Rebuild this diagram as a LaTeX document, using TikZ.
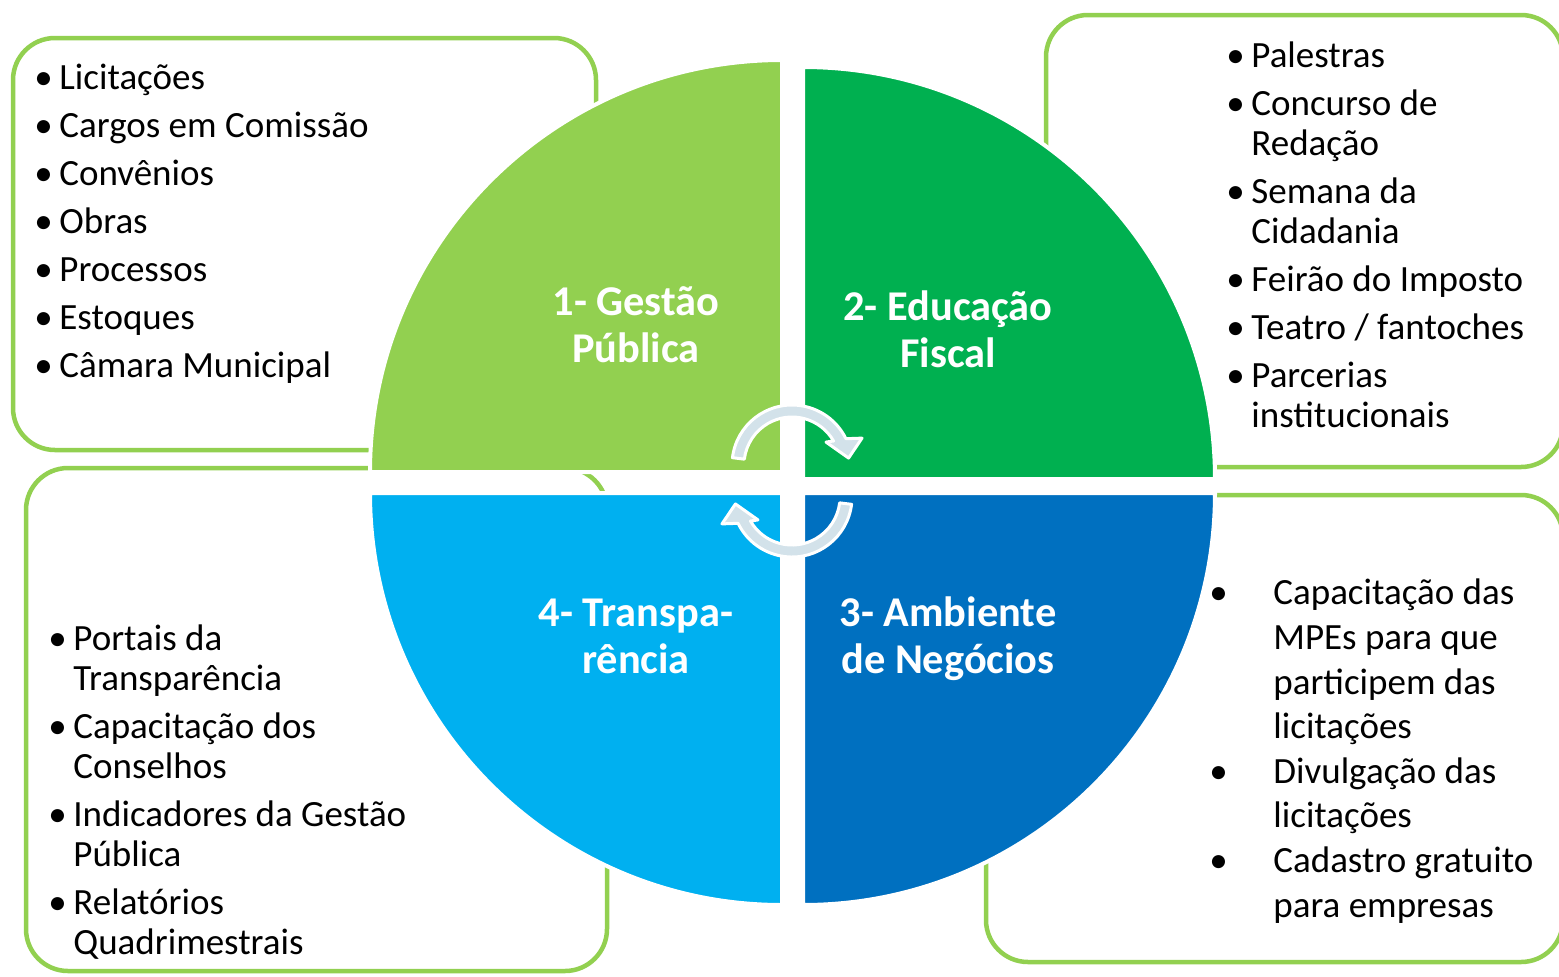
\documentclass[tikz,border=0pt]{standalone}
\usepackage{fontspec}
\setmainfont{Carlito}
\definecolor{gpub}{HTML}{92D050}
\definecolor{efis}{HTML}{00B050}
\definecolor{amb}{HTML}{0070C0}
\definecolor{transp}{HTML}{00B0F0}
\definecolor{ciclo}{HTML}{D3E2EA}
\newcommand{\bul}[1][12.5pt]{\makebox[#1][l]{•}}
\newcommand{\ind}[1][12.5pt]{\hspace*{#1}}
\begin{document}
\begin{tikzpicture}[x=0.5pt,y=0.5pt]
\tikzset{
  caixa/.style={draw=gpub, line width=2.25pt, rounded corners=21pt, fill=white},
  quad/.style={draw=white, line width=2pt},
  titulo/.style={text=white, font=\bfseries\fontsize{21.2}{23.5}\selectfont, align=center, inner sep=0pt, anchor=base},
  lista/.style={font=\fontsize{18.5}{20}\selectfont, align=left, inner sep=0pt, anchor=base west},
  seta/.style={fill=ciclo, draw=white, line width=1.5pt, line join=round}
}
\useasboundingbox (0,0) rectangle (1559,-976);
\fill[white] (0,0) rectangle (1559,-976);
\draw[caixa] (13,-38) rectangle (596,-450);
\draw[caixa] (1046,-15) rectangle (1563,-467);
\draw[caixa] (26,-468) rectangle (607,-971);
\draw[caixa] (986,-495) rectangle (1563,-962);
\filldraw[quad, fill=gpub] (782,-472) -- ++(-412,0) arc[start angle=180, end angle=90, radius=412] -- cycle;
\filldraw[quad, fill=efis] (803,-479) -- ++(0,412) arc[start angle=90, end angle=0, radius=412] -- cycle;
\filldraw[quad, fill=amb] (803,-493) -- ++(412,0) arc[start angle=0, end angle=-90, radius=412] -- cycle;
\filldraw[quad, fill=transp] (782,-493) -- ++(0,-412) arc[start angle=-90, end angle=-180, radius=412] -- cycle;
\begin{scope}[shift={(792,-465)}]
\filldraw[seta] (173:60) arc[start angle=173, end angle=26, radius=60] -- (21:75) -- (7:57) -- (34:41) -- (30:48) arc[start angle=30, end angle=173, radius=48] -- cycle;
\end{scope}
\begin{scope}[shift={(792,-497)}, rotate=180]
\filldraw[seta] (173:60) arc[start angle=173, end angle=26, radius=60] -- (21:75) -- (7:57) -- (34:41) -- (30:48) arc[start angle=30, end angle=173, radius=48] -- cycle;
\end{scope}
\node[titulo] (gestao) at (636,-362) {1- Gestão\\Pública};
\node[titulo] (educacao) at (948,-367) {2- Educação\\Fiscal};
\node[titulo] (ambiente) at (948,-673) {3- Ambiente\\de Negócios};
\node[titulo] (transparencia) at (636,-673) {4- Transpa-\\rência};
\node[lista] (listagestao) at (34,-377) {\bul Licitações\\[4pt]
  \bul Cargos em Comissão\\[4pt]
  \bul Convênios\\[4pt]
  \bul Obras\\[4pt]
  \bul Processos\\[4pt]
  \bul Estoques\\[4pt]
  \bul Câmara Municipal};
\node[lista] (listaeducacao) at (1226,-427) {\bul Palestras\\[4pt]
  \bul Concurso de\\
  \ind Redação\\[4pt]
  \bul Semana da\\
  \ind Cidadania\\[4pt]
  \bul Feirão do Imposto\\[4pt]
  \bul Teatro / fantoches\\[4pt]
  \bul Parcerias\\
  \ind institucionais};
\node[lista, font=\fontsize{18.5}{22.3}\selectfont] (listaambiente) at (1209,-917) {\bul[32pt]Capacitação das\\
  \ind[32pt]MPEs para que\\
  \ind[32pt]participem das\\
  \ind[32pt]licitações\\
  \bul[32pt]Divulgação das\\
  \ind[32pt]licitações\\
  \bul[32pt]Cadastro gratuito\\
  \ind[32pt]para empresas};
\node[lista] (listatransparencia) at (48,-954) {\bul Portais da\\
  \ind Transparência\\[4pt]
  \bul Capacitação dos\\
  \ind Conselhos\\[4pt]
  \bul Indicadores da Gestão\\
  \ind Pública\\[4pt]
  \bul Relatórios\\
  \ind Quadrimestrais};
\end{tikzpicture}
\end{document}
